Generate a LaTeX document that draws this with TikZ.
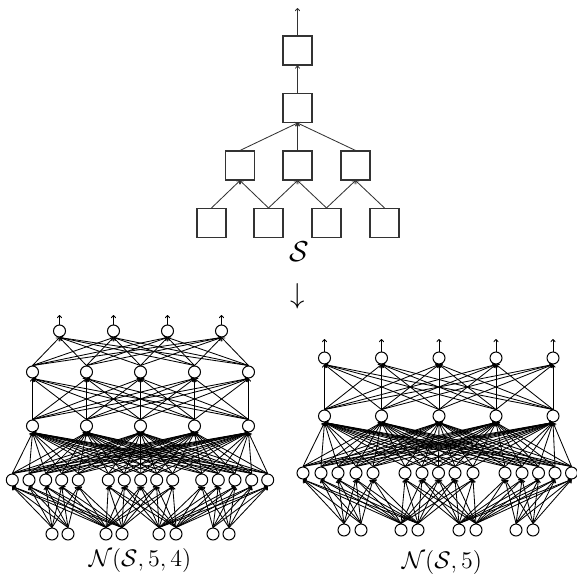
\documentclass[tikz,border=0pt]{standalone}
\usepackage{amsmath}
\usetikzlibrary{arrows.meta}
\begin{document}
\begin{tikzpicture}[x=0.5pt,y=-0.5pt,
  box/.style={draw,minimum size=14.5pt,inner sep=0pt,line width=0.55pt,draw=black!80},
  neuron/.style={draw,circle,minimum size=6pt,inner sep=0pt,line width=0.5pt,fill=white},
  edge/.style={line width=0.42pt,-{To[length=1.6pt,width=2.6pt]}},
  lbl/.style={inner sep=0pt,font=\large}
]
\useasboundingbox (0,0) rectangle (577,573);

% ---------- structure S ----------
\node[box] (top) at (297.5,50.5) {};
\node[box] (root) at (297.5,108) {};
\node[box] (m1) at (240,165.5) {};
\node[box] (m2) at (297.5,165.5) {};
\node[box] (m3) at (355.5,165.5) {};
\node[box] (l1) at (211.5,223) {};
\node[box] (l2) at (268.5,223) {};
\node[box] (l3) at (326.5,223) {};
\node[box] (l4) at (384.5,223) {};
\coordinate (sout) at (297.5,8);
\draw[edge,black!80] (top.north) -- (sout);
\draw[edge,black!80] (root.north) -- (top.south);
\foreach \i in {1,2,3} \draw[edge,black!80] (m\i.north) -- (root.south);
\draw[edge,black!80] (l1.north) -- (m1.south);
\draw[edge,black!80] (l2.north) -- (m1.south);
\draw[edge,black!80] (l2.north) -- (m2.south);
\draw[edge,black!80] (l3.north) -- (m2.south);
\draw[edge,black!80] (l3.north) -- (m3.south);
\draw[edge,black!80] (l4.north) -- (m3.south);
\node[inner sep=0pt,font=\Large] (S) at (299,252) {$\mathcal{S}$};
\node[inner sep=0pt,font=\Large] (down) at (298,296) {$\downarrow$};

% ---------- left network N(S,5,4) ----------
\foreach \x [count=\i] in {52,68,106,122,159,176,213,229}
  \node[neuron] (Lin\i) at (\x,534) {};
\foreach \x [count=\i] in {12.3,29,45.7,61.7,78.3,108.3,124.3,140.7,156.7,172.7,201.7,218.3,235,251.7,267.7}
  \node[neuron] (La\i) at (\x,480) {};
\foreach \x [count=\i] in {32.5,86.5,140.5,194.5,248.5} {
  \node[neuron] (Lb\i) at (\x,426) {};
  \node[neuron] (Lc\i) at (\x,372) {};
}
\foreach \x [count=\i] in {59.5,113.5,167.5,221.5} {
  \node[neuron] (Ld\i) at (\x,331) {};
  \coordinate (Lout\i) at (\x,315);
}
\foreach \j in {1,...,15} {
  \pgfmathtruncatemacro{\g}{int((\j-1)/5)}
  \foreach \k in {1,...,4} {
    \pgfmathtruncatemacro{\ii}{2*\g+\k}
    \draw[edge] (Lin\ii.north) -- (La\j.south);
  }
}
\foreach \j in {1,...,15}
  \foreach \k in {1,...,5}
    \draw[edge] (La\j.north) -- (Lb\k.south);
\foreach \j in {1,...,5}
  \foreach \k in {1,...,5}
    \draw[edge] (Lb\j.north) -- (Lc\k.south);
\foreach \j in {1,...,5}
  \foreach \k in {1,...,4}
    \draw[edge] (Lc\j.north) -- (Ld\k.south);
\foreach \k in {1,...,4}
  \draw[edge] (Ld\k.north) -- (Lout\k);
\node[lbl] (Llab) at (140,560) {$\mathcal{N}(\mathcal{S},5,4)$};

% ---------- right network N(S,5) ----------
\foreach \x [count=\i] in {344,361,401,418,459,476,516,533}
  \node[neuron] (Rin\i) at (\x,530) {};
\foreach \x [count=\i] in {303,321,338,356,373,405,422,438.5,455,473,505,522,538.5,555,571.5}
  \node[neuron] (Ra\i) at (\x,473) {};
\foreach \x [count=\i] in {324.5,381.5,439,496,553} {
  \node[neuron] (Rb\i) at (\x,416) {};
  \node[neuron] (Rc\i) at (\x,358) {};
  \coordinate (Rout\i) at (\x,339);
}
\foreach \j in {1,...,15} {
  \pgfmathtruncatemacro{\g}{int((\j-1)/5)}
  \foreach \k in {1,...,4} {
    \pgfmathtruncatemacro{\ii}{2*\g+\k}
    \draw[edge] (Rin\ii.north) -- (Ra\j.south);
  }
}
\foreach \j in {1,...,15}
  \foreach \k in {1,...,5}
    \draw[edge] (Ra\j.north) -- (Rb\k.south);
\foreach \j in {1,...,5}
  \foreach \k in {1,...,5}
    \draw[edge] (Rb\j.north) -- (Rc\k.south);
\foreach \k in {1,...,5}
  \draw[edge] (Rc\k.north) -- (Rout\k);
\node[lbl] (Rlab) at (442,562) {$\mathcal{N}(\mathcal{S},5)$};
\end{tikzpicture}
\end{document}
